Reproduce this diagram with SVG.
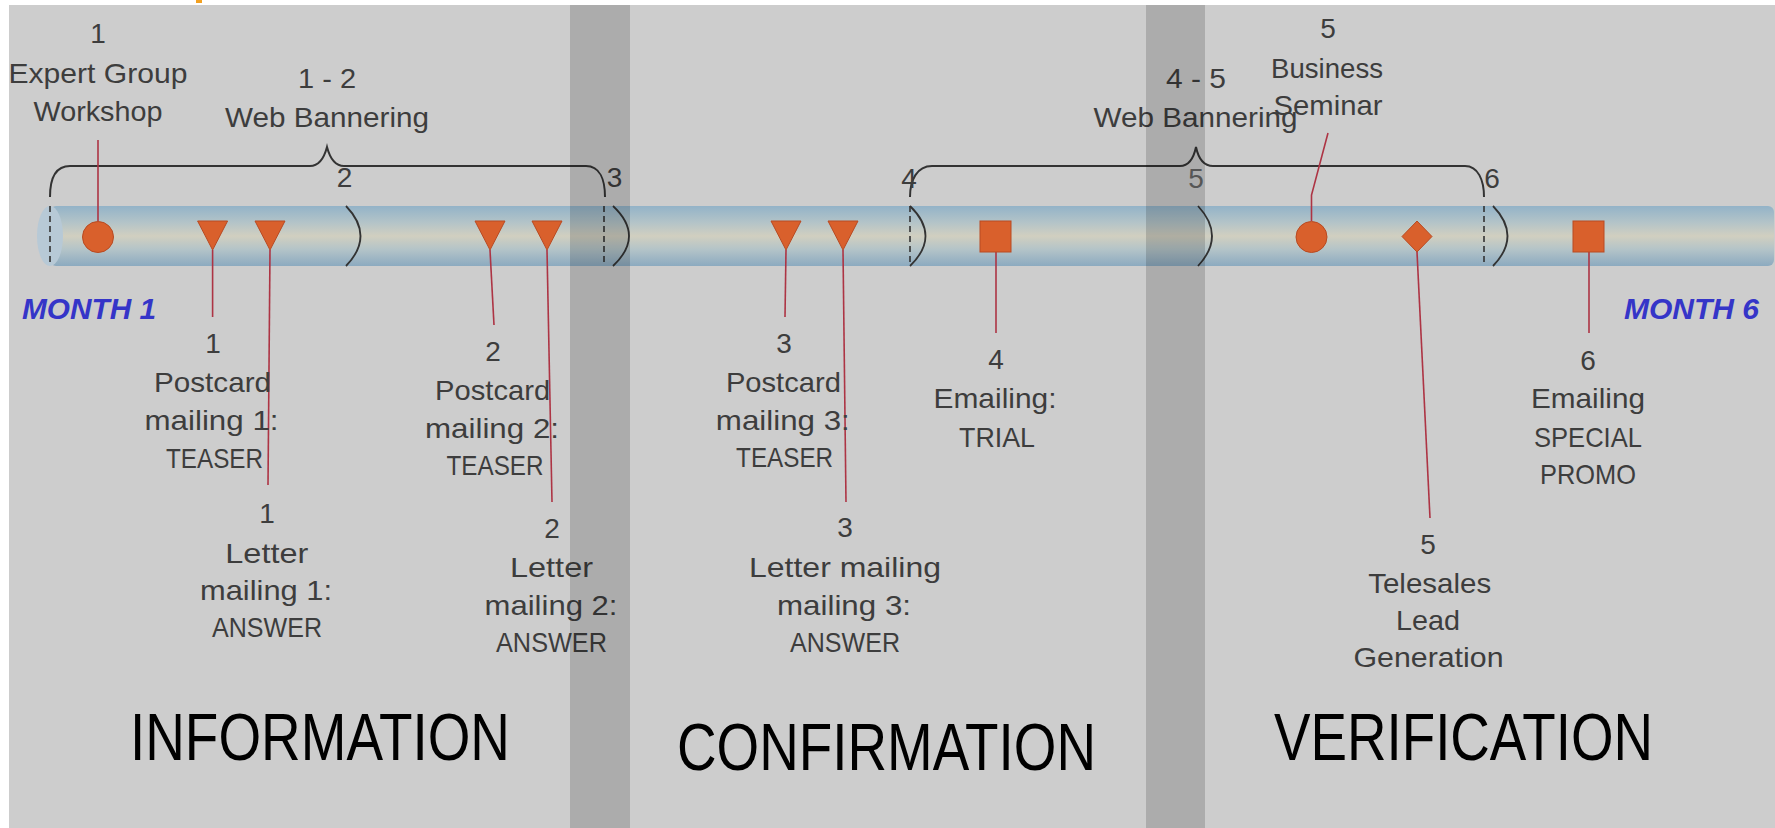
<svg xmlns="http://www.w3.org/2000/svg" width="1775" height="828" viewBox="0 0 1775 828">
<defs>
<linearGradient id="tubeG" x1="0" y1="0" x2="0" y2="1">
<stop offset="0" stop-color="#93b3c8"/>
<stop offset="0.28" stop-color="#b4c4c8"/>
<stop offset="0.5" stop-color="#d1cfc0"/>
<stop offset="0.72" stop-color="#b4c4c8"/>
<stop offset="1" stop-color="#8caac0"/>
</linearGradient>
<style>
.t{font-family:"Liberation Sans",Arial,sans-serif;font-size:28px;fill:#3d3d3d;text-anchor:middle}
.mo{font-family:"Liberation Sans",Arial,sans-serif;font-size:30px;font-weight:bold;font-style:italic;fill:#3535c8}
.ph{font-family:"Liberation Sans",Arial,sans-serif;font-size:66px;fill:#000}
.lead{stroke:#ad3444;stroke-width:1.6;fill:none}
.mk{fill:#d9602c;stroke:#b84a22;stroke-width:1}
.dash{stroke:#333;stroke-width:1.6;stroke-dasharray:6 4;fill:none}
.arc{stroke:#333;stroke-width:1.8;fill:none}
.brace{stroke:#333;stroke-width:2;fill:none}
</style>
</defs>
<rect x="0" y="0" width="1775" height="828" fill="#ffffff"/>
<rect x="9" y="5" width="1766" height="823" fill="#cdcdcd"/>
<rect x="196" y="0" width="6" height="3" fill="#f2a020"/>

<g id="tube">
<rect x="50" y="206" width="1724" height="60" rx="6" fill="url(#tubeG)"/>
<ellipse cx="50" cy="236" rx="13" ry="30" fill="#b7c9d6"/>
<path class="dash" d="M50 206V266M604 206V266M910 206V266M1484 206V266"/>
<path class="arc" d="M346 206Q375 236 346 266M613 206Q645 236 613 266M910 206Q941 236 910 266M1198 206Q1226 236 1198 266M1493 206Q1522 236 1493 266"/>
</g>

<g id="braces">
<path class="brace" d="M50 197C50 180 55 166 70 166L310 166Q322 166 327 147Q332 166 344 166L586 166C600 166 605 180 605 197"/>
<path class="brace" d="M910 197C910 180 917 166 932 166L1180 166Q1192 166 1196 147Q1200 166 1213 166L1465 166C1478 166 1484 180 1484 197"/>
<text class="t" x="344.5" y="187">2</text>
<text class="t" x="614.5" y="187">3</text>
<text class="t" x="909" y="188">4</text>
<text class="t" x="1196" y="188" style="fill:#666">5</text>
<text class="t" x="1492" y="188">6</text>
</g>

<g id="connectors">
<path class="lead" d="M98 140V221"/>
<path class="lead" d="M212.6 250V317"/>
<path class="lead" d="M270 250L268 485"/>
<path class="lead" d="M490 250L494 325"/>
<path class="lead" d="M547 250L552 502"/>
<path class="lead" d="M786 250L785 317"/>
<path class="lead" d="M843 250L846 502"/>
<path class="lead" d="M996 252V333"/>
<path class="lead" d="M1311.5 221V195L1328 133"/>
<path class="lead" d="M1417 252L1430 518"/>
<path class="lead" d="M1589 252V333"/>
</g>

<g id="n-workshop">
<circle class="mk" cx="98" cy="237" r="15.5"/>
<text class="t" x="98" y="43">1</text>
<text class="t" x="98" y="83" textLength="179" lengthAdjust="spacingAndGlyphs">Expert Group</text>
<text class="t" x="98" y="121" textLength="129" lengthAdjust="spacingAndGlyphs">Workshop</text>
</g>

<g id="n-web12">
<text class="t" x="327" y="87.5" textLength="58" lengthAdjust="spacingAndGlyphs">1 - 2</text>
<text class="t" x="327" y="127" textLength="204" lengthAdjust="spacingAndGlyphs">Web Bannering</text>
</g>

<g id="n-web45">
<text class="t" x="1196" y="87.5" textLength="60" lengthAdjust="spacingAndGlyphs">4 - 5</text>
<text class="t" x="1195.6" y="127" textLength="204" lengthAdjust="spacingAndGlyphs">Web Bannering</text>
</g>

<g id="n-seminar">
<circle class="mk" cx="1311.5" cy="237" r="15.5"/>
<text class="t" x="1328" y="38">5</text>
<text class="t" x="1327" y="77.5" textLength="112" lengthAdjust="spacingAndGlyphs">Business</text>
<text class="t" x="1328" y="115" textLength="109" lengthAdjust="spacingAndGlyphs">Seminar</text>
</g>

<g id="n-postcard1">
<polygon class="mk" points="197.6,221 227.6,221 212.6,250"/>
<text class="t" x="213" y="353">1</text>
<text class="t" x="212.5" y="392" textLength="117" lengthAdjust="spacingAndGlyphs">Postcard</text>
<text class="t" x="211.5" y="430" textLength="134" lengthAdjust="spacingAndGlyphs">mailing 1:</text>
<text class="t" x="214.5" y="468" textLength="97" lengthAdjust="spacingAndGlyphs">TEASER</text>
</g>

<g id="n-letter1">
<polygon class="mk" points="255,221 285,221 270,250"/>
<text class="t" x="267" y="523">1</text>
<text class="t" x="266.8" y="563" textLength="83" lengthAdjust="spacingAndGlyphs">Letter</text>
<text class="t" x="266" y="600" textLength="132" lengthAdjust="spacingAndGlyphs">mailing 1:</text>
<text class="t" x="267" y="637" textLength="110" lengthAdjust="spacingAndGlyphs">ANSWER</text>
</g>

<g id="n-postcard2">
<polygon class="mk" points="475,221 505,221 490,250"/>
<text class="t" x="493" y="361">2</text>
<text class="t" x="492.6" y="400" textLength="115" lengthAdjust="spacingAndGlyphs">Postcard</text>
<text class="t" x="492" y="438" textLength="134" lengthAdjust="spacingAndGlyphs">mailing 2:</text>
<text class="t" x="495" y="475" textLength="97" lengthAdjust="spacingAndGlyphs">TEASER</text>
</g>

<g id="n-letter2">
<polygon class="mk" points="532,221 562,221 547,250"/>
<text class="t" x="552" y="538">2</text>
<text class="t" x="551.5" y="577" textLength="83" lengthAdjust="spacingAndGlyphs">Letter</text>
<text class="t" x="551" y="615" textLength="133" lengthAdjust="spacingAndGlyphs">mailing 2:</text>
<text class="t" x="551.5" y="652" textLength="111" lengthAdjust="spacingAndGlyphs">ANSWER</text>
</g>

<g id="n-postcard3">
<polygon class="mk" points="771,221 801,221 786,250"/>
<text class="t" x="784" y="353">3</text>
<text class="t" x="783.4" y="392" textLength="115" lengthAdjust="spacingAndGlyphs">Postcard</text>
<text class="t" x="782.8" y="430" textLength="134" lengthAdjust="spacingAndGlyphs">mailing 3:</text>
<text class="t" x="784.6" y="467" textLength="97" lengthAdjust="spacingAndGlyphs">TEASER</text>
</g>

<g id="n-letter3">
<polygon class="mk" points="828,221 858,221 843,250"/>
<text class="t" x="845" y="537">3</text>
<text class="t" x="845" y="577" textLength="192" lengthAdjust="spacingAndGlyphs">Letter mailing</text>
<text class="t" x="844" y="615" textLength="134" lengthAdjust="spacingAndGlyphs">mailing 3:</text>
<text class="t" x="845" y="652" textLength="110" lengthAdjust="spacingAndGlyphs">ANSWER</text>
</g>

<g id="n-emailing4">
<rect class="mk" x="980" y="221" width="31" height="31"/>
<text class="t" x="996" y="369">4</text>
<text class="t" x="995" y="408" textLength="123" lengthAdjust="spacingAndGlyphs">Emailing:</text>
<text class="t" x="997" y="447" textLength="76" lengthAdjust="spacingAndGlyphs">TRIAL</text>
</g>

<g id="n-telesales5">
<polygon class="mk" points="1417,221 1432,236.5 1417,252 1402,236.5"/>
<text class="t" x="1428" y="554">5</text>
<text class="t" x="1429.7" y="593" textLength="123" lengthAdjust="spacingAndGlyphs">Telesales</text>
<text class="t" x="1428" y="630" textLength="64" lengthAdjust="spacingAndGlyphs">Lead</text>
<text class="t" x="1428.5" y="667" textLength="150" lengthAdjust="spacingAndGlyphs">Generation</text>
</g>

<g id="n-emailing6">
<rect class="mk" x="1573" y="221" width="31" height="31"/>
<text class="t" x="1588" y="370">6</text>
<text class="t" x="1588" y="408" textLength="114" lengthAdjust="spacingAndGlyphs">Emailing</text>
<text class="t" x="1588" y="447" textLength="108" lengthAdjust="spacingAndGlyphs">SPECIAL</text>
<text class="t" x="1588" y="484" textLength="96" lengthAdjust="spacingAndGlyphs">PROMO</text>
</g>

<g id="months">
<text class="mo" x="22" y="319" textLength="134" lengthAdjust="spacingAndGlyphs">MONTH 1</text>
<text class="mo" x="1624" y="319" textLength="135" lengthAdjust="spacingAndGlyphs">MONTH 6</text>
</g>

<g id="bands">
<rect x="570" y="5" width="60" height="823" fill="#000" fill-opacity="0.155"/>
<rect x="1146" y="5" width="59" height="823" fill="#000" fill-opacity="0.155"/>
</g>

<g id="phases">
<text class="ph" x="130" y="760" textLength="380" lengthAdjust="spacingAndGlyphs">INFORMATION</text>
<text class="ph" x="677" y="770" textLength="419" lengthAdjust="spacingAndGlyphs">CONFIRMATION</text>
<text class="ph" x="1274" y="760" textLength="379" lengthAdjust="spacingAndGlyphs">VERIFICATION</text>
</g>
</svg>
